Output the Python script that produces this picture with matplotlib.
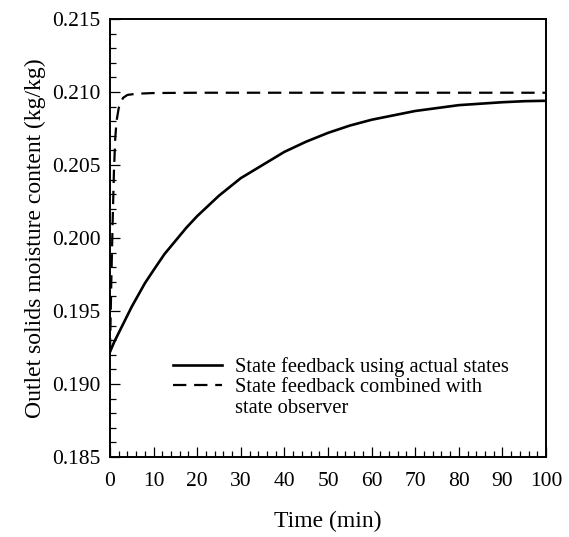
import numpy as np
import matplotlib
matplotlib.use('Agg')
import matplotlib.pyplot as plt
from matplotlib.lines import Line2D
from matplotlib.ticker import MultipleLocator

# solid: state feedback using actual states
t_actual = [0, 1, 2, 3, 4, 5, 6.5, 8, 10, 12.5, 15, 17.5, 20, 22.5, 25, 27.5, 30, 35, 40, 45,
            50, 55, 60, 65, 70, 75, 80, 85, 90, 95, 100]
x_actual = [0.1922, 0.1929, 0.1935, 0.1941, 0.1947, 0.1953, 0.1961, 0.1969, 0.1978, 0.1989,
            0.1998, 0.2007, 0.2015, 0.2022, 0.2029, 0.2035, 0.2041, 0.2050, 0.2059,
            0.2066, 0.2072, 0.2077, 0.2081, 0.2084, 0.2087, 0.2089, 0.2091, 0.2092, 0.2093,
            0.20937, 0.2094]
# dashed: state feedback combined with state observer
t_obs = [0, 0.3, 0.6, 0.9, 1.2, 1.5, 2.0, 2.5, 3.0, 4.0, 6.0, 10, 20, 40, 60, 80, 100]
x_obs = [0.1922, 0.1970, 0.2010, 0.2045, 0.2068, 0.2080, 0.2089, 0.2093, 0.2096, 0.2098,
         0.20988, 0.20993, 0.20995, 0.20995, 0.20995, 0.20995, 0.20995]

plt.rcParams['font.family'] = ['Liberation Serif', 'DejaVu Serif']

fig = plt.figure(figsize=(5.69, 5.37), dpi=100)
ax = fig.add_axes([0.1933, 0.149, 0.7663, 0.8156])

l1, = ax.plot(t_actual, x_actual, color='black', lw=1.9)
l2, = ax.plot(t_obs, x_obs, color='black', lw=1.6, dashes=(6, 3.5))

ax.set_xlim(0, 100)
ax.set_ylim(0.185, 0.215)
ax.xaxis.set_major_locator(MultipleLocator(10))
ax.xaxis.set_minor_locator(MultipleLocator(2))
ax.yaxis.set_major_locator(MultipleLocator(0.005))
ax.yaxis.set_minor_locator(MultipleLocator(0.001))
ax.yaxis.set_major_formatter(matplotlib.ticker.FormatStrFormatter('%.3f'))
ax.tick_params(which='both', direction='in', top=False, right=False, width=0.9)
ax.tick_params(which='major', length=7, labelsize=15.5)
ax.tick_params(which='minor', length=4.3)
ax.tick_params(axis='x', which='major', pad=11)
ax.tick_params(axis='y', which='major', pad=7)
for sp in ax.spines.values():
    sp.set_linewidth(1.4)

ax.set_xlabel('Time (min)', fontsize=17, labelpad=14)
ax.set_ylabel('Outlet solids moisture content (kg/kg)', fontsize=17, labelpad=4)

blank = Line2D([], [], color='none')
ax.legend([l1, l2, blank],
          ['State feedback using actual states', 'State feedback combined with', 'state observer'],
          loc='upper left', bbox_to_anchor=(0.1445, 0.228), frameon=False,
          fontsize=14.8, handlelength=2.4, handletextpad=0.6, labelspacing=0.05,
          borderpad=0, borderaxespad=0)

fig.savefig('out.png', dpi=100)
